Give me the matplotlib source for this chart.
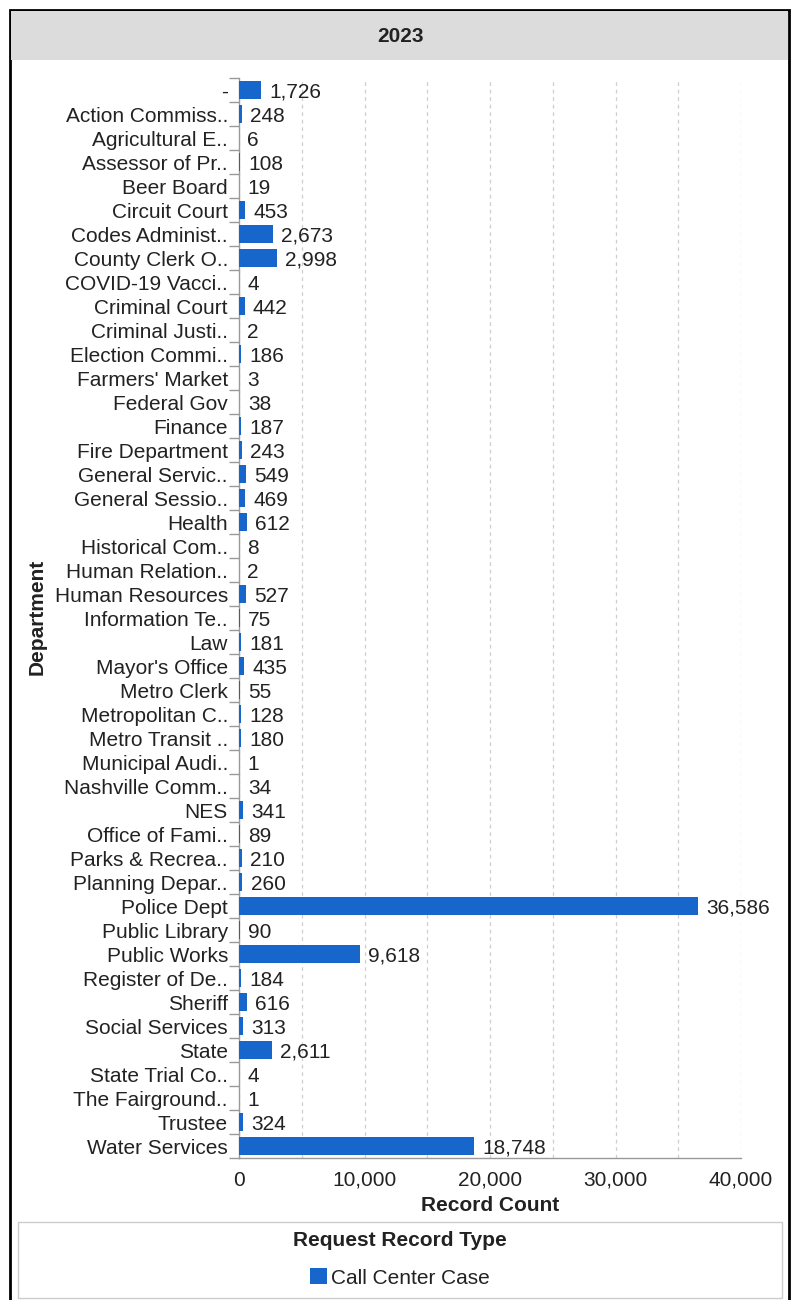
import matplotlib.pyplot as plt
from matplotlib.patches import Rectangle
from matplotlib.ticker import MultipleLocator, FuncFormatter

plt.rcParams['font.family'] = ['Liberation Sans', 'DejaVu Sans']

year = "2023"
departments = [
    "-", "Action Commiss..", "Agricultural E..", "Assessor of Pr..", "Beer Board",
    "Circuit Court", "Codes Administ..", "County Clerk O..", "COVID-19 Vacci..",
    "Criminal Court", "Criminal Justi..", "Election Commi..", "Farmers' Market",
    "Federal Gov", "Finance", "Fire Department", "General Servic..", "General Sessio..",
    "Health", "Historical Com..", "Human Relation..", "Human Resources",
    "Information Te..", "Law", "Mayor's Office", "Metro Clerk", "Metropolitan C..",
    "Metro Transit ..", "Municipal Audi..", "Nashville Comm..", "NES",
    "Office of Fami..", "Parks & Recrea..", "Planning Depar..", "Police Dept",
    "Public Library", "Public Works", "Register of De..", "Sheriff",
    "Social Services", "State", "State Trial Co..", "The Fairground..", "Trustee",
    "Water Services",
]
record_counts = [
    1726, 248, 6, 108, 19, 453, 2673, 2998, 4, 442, 2, 186, 3, 38, 187, 243,
    549, 469, 612, 8, 2, 527, 75, 181, 435, 55, 128, 180, 1, 34, 341, 89, 210,
    260, 36586, 90, 9618, 184, 616, 313, 2611, 4, 1, 324, 18748,
]
series_name = "Call Center Case"
legend_title = "Request Record Type"

W, H = 792, 1300
fig = plt.figure(figsize=(W / 100, H / 100), dpi=100)

def fx(px):
    return px / W

def fy(py):
    return 1 - py / H

blue = "#1766cc"
txt = "#222222"
fs = 15

# outer frame and header band
fig.patches.append(Rectangle((fx(10), fy(1302)), fx(779), 1292 / H,
                             transform=fig.transFigure, fill=False,
                             ec="black", lw=2, zorder=0))
fig.patches.append(Rectangle((fx(11), fy(60)), fx(777), 49 / H,
                             transform=fig.transFigure, fc="#dcdcdc",
                             ec="none", zorder=0))
fig.text(fx(400), fy(37), year, ha="center", va="center",
         fontsize=fs, fontweight="bold", color=txt)

ax = fig.add_axes([fx(239), fy(1158), fx(741 - 239), (1158 - 78) / H])
n = len(departments)
ypos = list(range(n))
bars = ax.barh(ypos, record_counts, height=0.75, color=blue, zorder=3,
               label=series_name)
labels = ax.bar_label(bars, labels=[f"{v:,}" for v in record_counts],
                      padding=6, fontsize=fs, color=txt)
# value labels sit a touch below the bar centre
for t in labels:
    t.set_va("center_baseline")

ax.set_ylim(n - 0.5, -0.5)
ax.set_yticks(ypos)
ax.set_yticklabels(departments, fontsize=fs, color=txt)
ax.set_yticks([i + 0.5 for i in range(-1, n)], minor=True)
ax.tick_params(axis="y", which="major", length=0, pad=8)
ax.tick_params(axis="y", which="minor", length=7, color="#999999", width=1)

ax.set_xlim(0, 40000)
ax.xaxis.set_major_locator(MultipleLocator(10000))
ax.xaxis.set_minor_locator(MultipleLocator(5000))
ax.xaxis.set_major_formatter(FuncFormatter(lambda v, _: f"{int(v):,}"))
ax.tick_params(axis="x", which="major", length=0, pad=9, labelsize=fs,
               labelcolor=txt)
ax.tick_params(axis="x", which="minor", length=0)
ax.grid(axis="x", which="both", color="#cfcfcf", linestyle=(0, (3, 3)),
        linewidth=0.9, zorder=0)

for s in ("top", "right"):
    ax.spines[s].set_visible(False)
for s in ("left", "bottom"):
    ax.spines[s].set_color("#999999")
    ax.spines[s].set_linewidth(1)

ax.set_xlabel("Record Count", fontsize=fs, fontweight="bold", color=txt,
              labelpad=5)
fig.text(fx(37), fy(617), "Department", rotation=90, ha="center",
         va="center", fontsize=fs, fontweight="bold", color=txt)

# legend panel
fig.patches.append(Rectangle((fx(18), fy(1298)), fx(764), 76 / H,
                             transform=fig.transFigure, fill=False,
                             ec="#cccccc", lw=1))
fig.text(fx(400), fy(1240), legend_title, ha="center", va="center",
         fontsize=fs, fontweight="bold", color=txt)
leg = fig.legend(handles=[bars], labels=[series_name], loc="center",
                 bbox_to_anchor=(fx(400), fy(1278)), frameon=False,
                 fontsize=fs, handlelength=0.8, handleheight=0.8,
                 handletextpad=0.2, borderpad=0, labelspacing=0)
for t in leg.get_texts():
    t.set_color(txt)

fig.savefig("out.png", dpi=100)
